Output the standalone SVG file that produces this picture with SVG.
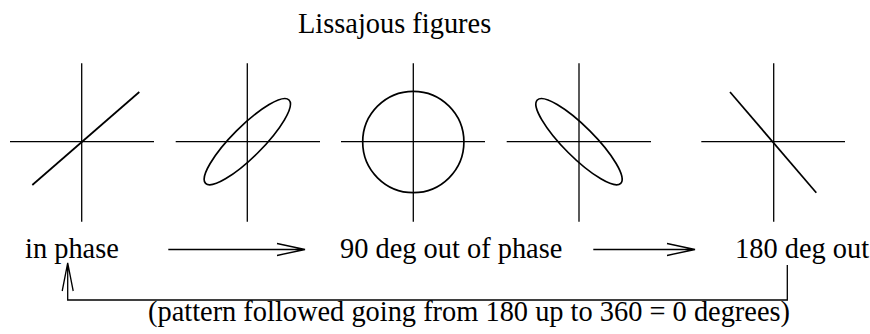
<svg xmlns="http://www.w3.org/2000/svg" width="870" height="334" viewBox="0 0 870 334">
<style>
.ax{stroke:#000;stroke-width:1.3;fill:none}
.cv{stroke:#000;stroke-width:1.7;fill:none}
.cn{stroke:#000;stroke-width:1.3;fill:none}
text{font-family:"Liberation Serif","Times New Roman",serif;font-size:28.4px;fill:#000}
</style>
<rect width="870" height="334" fill="#fff"/>
<text id="title" x="298" y="33">Lissajous figures</text>
<g id="fig1">
<line class="ax" x1="81.7" y1="63.3" x2="81.7" y2="221.7"/>
<line class="ax" x1="10" y1="141.7" x2="154" y2="141.7"/>
<line class="cv" x1="32.3" y1="185" x2="139.3" y2="92"/>
</g>
<g id="fig2">
<line class="ax" x1="247.3" y1="63.3" x2="247.3" y2="221.7"/>
<line class="ax" x1="175.7" y1="141.7" x2="320" y2="141.7"/>
<ellipse class="cv" cx="247.3" cy="141.7" rx="59" ry="15.3" transform="rotate(-45 247.3 141.7)"/>
</g>
<g id="fig3">
<line class="ax" x1="413.3" y1="63.3" x2="413.3" y2="221.7"/>
<line class="ax" x1="341" y1="141.7" x2="485" y2="141.7"/>
<circle class="cv" cx="413.3" cy="142" r="50.6"/>
</g>
<g id="fig4">
<line class="ax" x1="579" y1="63.3" x2="579" y2="221.7"/>
<line class="ax" x1="506.7" y1="141.7" x2="651" y2="141.7"/>
<ellipse class="cv" cx="579" cy="141.7" rx="59" ry="15.3" transform="rotate(45 579 141.7)"/>
</g>
<g id="fig5">
<line class="ax" x1="773.7" y1="63.3" x2="773.7" y2="221.7"/>
<line class="ax" x1="701.3" y1="141.7" x2="845" y2="141.7"/>
<line class="cv" x1="730" y1="92" x2="816.3" y2="192.7"/>
</g>
<g id="lbl-in-phase"><text x="25" y="258">in phase</text></g>
<g id="lbl-90"><text x="340" y="258">90 deg out of phase</text></g>
<g id="lbl-180"><text x="735" y="258">180 deg out</text></g>
<g id="lbl-note"><text x="148" y="321">(pattern followed going from 180 up to 360 = 0 degrees)</text></g>
<g id="connectors">
<path class="cn" d="M168.3 249.5 H305 M277 243.5 L305 249.5 L277 255.5"/>
<path class="cn" d="M593.3 249.5 H695 M667 243.5 L695 249.5 L667 255.5"/>
<path class="cn" d="M787.3 265 V300 H67.7 V263 M62.2 291 L67.7 263 L73.2 291"/>
</g>
</svg>
